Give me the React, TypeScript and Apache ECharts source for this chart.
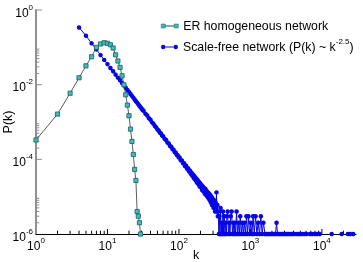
import React, { useEffect, useRef } from "react";
import * as echarts from "echarts";

const FONT = "'Liberation Sans', Arial, Helvetica, sans-serif";

// Axis ranges
const X_MIN = 1;
const X_MAX = 30000;
const Y_MIN = 1e-6;
const Y_MAX = 1;

// ER homogeneous network
const erK = [1, 2, 3, 4, 5, 6, 7, 8, 9, 10, 11, 12, 13, 14, 15, 16, 17, 18, 19, 20, 21, 22, 23, 24, 25, 26, 27, 28, 29];
const erP = [3.3e-4, 1.63e-3, 5.9e-3, 0.0153, 0.032, 0.056, 0.1, 0.123, 0.133, 0.128, 0.117, 0.096, 0.063, 0.043, 0.0291, 0.0173, 0.0099, 0.00536, 0.00284, 0.00147, 6.45e-4, 3.02e-4, 1.35e-4, 5.36e-5, 2.72e-5, 4e-6, 3e-6, 2e-6, 1e-6];

// Scale-free network: head
const sfHeadK = [4, 5, 6, 7, 8, 9, 10, 11, 12, 13, 14, 15, 16, 17, 18, 19, 20, 21, 22, 23, 24, 25, 26, 27, 28, 29, 30, 31];
const sfHeadP = [0.34, 0.205, 0.128, 0.088, 0.062, 0.046, 0.0355, 0.028, 0.0228, 0.0186, 0.0154, 0.0131, 0.011, 0.0096, 0.0083, 0.0072, 0.0064, 0.0056, 0.005, 0.0045, 0.004, 0.0036, 0.0033, 0.003, 0.0027, 0.0025, 0.0023, 0.0021];
// middle
const sfMidK = [32, 34, 36, 38, 40, 42, 44, 46, 48, 50, 52, 54, 56, 58, 60, 63, 66, 69, 72, 75, 78, 81, 84, 87, 90, 93, 96, 99];
const sfMidP = [2.0e-3, 1.66e-3, 1.49e-3, 1.26e-3, 1.15e-3, 9.8e-4, 9.0e-4, 7.8e-4, 7.2e-4, 6.3e-4, 5.9e-4, 5.2e-4, 4.95e-4, 4.35e-4, 4.15e-4, 3.55e-4, 3.3e-4, 2.82e-4, 2.65e-4, 2.28e-4, 2.17e-4, 1.88e-4, 1.8e-4, 1.56e-4, 1.52e-4, 1.33e-4, 1.29e-4, 1.13e-4];
// noisy band
const sfBandK = [102, 106, 110, 114, 118, 122, 126, 130, 134, 138, 142, 146, 150, 154, 158, 162, 166, 170, 174, 178, 182, 186, 190, 194, 198,
  200, 205, 210, 215, 220, 225, 230, 235, 240, 245, 250, 255, 260, 265, 270, 275, 280, 285, 290, 295, 300, 305, 310, 315, 320, 325, 330, 335, 340, 345, 350];
const sfBandP = [1.12e-4, 9.4e-5, 9.3e-5, 7.8e-5, 7.9e-5, 6.5e-5, 6.8e-5, 5.6e-5, 5.8e-5, 4.8e-5, 5.0e-5, 4.1e-5, 4.4e-5, 3.6e-5, 3.9e-5, 3.1e-5, 3.5e-5, 2.8e-5, 3.1e-5, 2.4e-5, 2.8e-5, 2.2e-5, 2.5e-5, 1.9e-5, 2.3e-5,
  1.8e-5, 2.1e-5, 1.5e-5, 1.9e-5, 1.4e-5, 1.7e-5, 1.2e-5, 1.6e-5, 1.1e-5, 1.4e-5, 1.0e-5, 1.3e-5, 9e-6, 1.2e-5, 8e-6, 1.1e-5, 7e-6, 1.0e-5, 6e-6, 9e-6, 7e-6, 5e-6, 8e-6, 6e-6, 4e-6, 7e-6, 5e-6, 1.3e-5, 4e-6, 6e-6, 3e-6];
// sparse tail (stems)
const sfTailK = [355, 362, 368, 375, 382, 390, 398, 405, 413, 422, 430, 440, 450, 460, 470, 480, 492, 505, 518, 530, 545, 560, 575, 590, 605, 620, 640, 660, 680, 700, 720, 745, 770, 795, 820, 850, 880, 910, 940, 975, 1010, 1050, 1090, 1130, 1180, 1230, 1280, 1340, 1400, 1460, 1520, 1600];
const sfTailP = [4e-6, 1e-6, 3e-6, 1e-6, 5e-6, 1e-6, 2e-6, 1e-6, 4e-6, 1e-6, 3e-6, 1e-6, 2e-6, 1e-6, 3e-6, 4e-6, 1e-6, 2e-6, 1e-6, 3e-6, 4e-6, 1e-6, 2e-6, 1e-6, 2e-6, 1e-6, 4e-6, 1e-6, 2e-6, 1e-6, 3e-6, 1e-6, 2e-6, 1e-6, 2e-6, 1e-6, 3e-6, 1e-6, 3e-6, 1e-6, 2e-6, 1e-6, 3e-6, 1e-6, 3e-6, 1e-6, 2e-6, 1e-6, 3e-6, 1e-6, 2e-6, 1e-6];
// far tail along the floor (null = no count)
const sfFarK = [1680, 1760, 1850, 1940, 2040, 2150, 2240, 2320, 2400, 2520, 2650, 2790, 2930, 3080, 3240, 3400, 3570, 3750, 3950, 4150, 4300, 4500, 4750, 5000, 5300, 5700, 6100, 6400, 6800, 7300, 7900, 8500, 9300, 11000, 13700, 16000, 18900, 21000, 23100, 25000, 27400];
const sfFarP: (number | null)[] = [1e-6, 1e-6, 1e-6, 1e-6, 1e-6, 1e-6, 1e-6, 2e-6, 1e-6, 1e-6, 1e-6, 1e-6, 1e-6, 1e-6, 1e-6, 1e-6, 1e-6, 1e-6, 1e-6, 1e-6, null, 1e-6, 1e-6, 1e-6, 1e-6, 1e-6, 1e-6, null, 1e-6, 1e-6, 1e-6, 1e-6, 1e-6, null, 1e-6, null, 1e-6, null, 1e-6, 1e-6, 1e-6];

// Tick positions
const xMajorTicks = [10, 100, 1000, 10000];
const minorMult = [2, 3, 4, 5, 6, 7, 8, 9];
const xMinorDecades = [1, 10, 100, 1000, 10000];
const yMajorTicks = [1e-4, 1e-2, 1];
const yMinorDecades = [1e-6, 1e-4, 1e-2];

const ER_NAME = "ER homogeneous network";
const SF_NAME = "Scale-free network (P(k) ~ k^-2.5)";

export default function App() {
  const ref = useRef<HTMLDivElement>(null);
  useEffect(() => {
    if (!ref.current) return;
    const chart = echarts.init(ref.current, undefined, { renderer: "svg" });

    const sfK = [...sfHeadK, ...sfMidK, ...sfBandK, ...sfTailK, ...sfFarK];
    const sfP: (number | null)[] = [...sfHeadP, ...sfMidP, ...sfBandP, ...sfTailP, ...sfFarP];
    const sfData = sfK.map((k, i) => [k, sfP[i] == null ? "-" : sfP[i]]);
    const erData = erK.map((k, i) => [k, erP[i]]);

    const xMinorTicks = xMinorDecades.flatMap((d) => minorMult.map((m) => m * d)).filter((v) => v < X_MAX);
    const yMinorTicks = yMinorDecades.flatMap((d) => minorMult.map((m) => m * d));
    const xTickData = [...xMajorTicks.map((v) => [v, Y_MIN, 5]), ...xMinorTicks.map((v) => [v, Y_MIN, 3.3])];
    const yTickData = [...yMajorTicks.map((v) => [X_MIN, v, 6]), ...yMinorTicks.map((v) => [X_MIN, v, 3.3])];

    const rich = {
      b: { fontSize: 12, lineHeight: 19, fontFamily: FONT, color: "#000" },
      s: { fontSize: 8, lineHeight: 8, verticalAlign: "top", fontFamily: FONT, color: "#000" },
    };
    const expOf = (v: number) => {
      const e = Math.log10(v);
      const r = Math.round(e);
      return Math.abs(e - r) > 1e-6 ? null : r;
    };

    const erIcon = "path://M0,0.5H4V4.5H0Z M13,0.5H17V4.5H13Z M4,2.3H13V2.7H4Z";
    const sfIcon = "path://M0,2.5A2.2,2.2 0 1 0 4.4,2.5A2.2,2.2 0 1 0 0,2.5Z M12.6,2.5A2.2,2.2 0 1 0 17,2.5A2.2,2.2 0 1 0 12.6,2.5Z M4.4,2.1H12.6V2.9H4.4Z";

    chart.setOption({
      animation: false,
      grid: { left: 36, right: 7, top: 10, bottom: 28, containLabel: false, outerBoundsMode: "none" },
      legend: [
        {
          left: 161, top: 20, padding: 0, orient: "vertical", itemWidth: 17, itemHeight: 5,
          selectedMode: false,
          data: [{ name: ER_NAME, icon: erIcon, itemStyle: { borderWidth: 0.5 } }],
          textStyle: { fontSize: 12.3, fontFamily: FONT, color: "#000" },
        },
        {
          left: 161, top: 37.5, padding: 0, orient: "vertical", itemWidth: 17, itemHeight: 5,
          selectedMode: false,
          data: [{ name: SF_NAME, icon: sfIcon }],
          formatter: () => "{b|Scale-free network (P(k) ~ k}{s|-2.5}{b|)}",
          textStyle: {
            fontFamily: FONT, color: "#000",
            rich: {
              b: { fontSize: 12.3, lineHeight: 19, fontFamily: FONT, color: "#000" },
              s: { fontSize: 8, lineHeight: 8, verticalAlign: "top", fontFamily: FONT, color: "#000" },
            },
          },
        },
      ],
      xAxis: {
        type: "log", logBase: 10, min: X_MIN, max: X_MAX,
        name: "k", nameLocation: "middle", nameGap: 14, nameMoveOverlap: false,
        nameTextStyle: { fontSize: 12.5, fontFamily: FONT, color: "#000" },
        axisLine: { show: true, onZero: false, lineStyle: { color: "#000", width: 1 } },
        axisTick: { show: false }, minorTick: { show: false },
        splitLine: { show: false },
        axisLabel: {
          margin: 2, rich,
          formatter: (v: number) => {
            const r = expOf(v);
            return r == null ? "" : `{b|10}{s|${r}}`;
          },
        },
      },
      yAxis: {
        type: "log", logBase: 10, min: Y_MIN, max: Y_MAX,
        name: "P(k)", nameLocation: "middle", nameGap: 22, nameMoveOverlap: false,
        nameTextStyle: { fontSize: 12.5, fontFamily: FONT, color: "#000" },
        axisLine: { show: true, onZero: false, lineStyle: { color: "#8f8f8f", width: 2 } },
        axisTick: { show: false }, minorTick: { show: false },
        splitLine: { show: false },
        axisLabel: {
          margin: 3, rich, padding: [5, 0, 0, 0],
          formatter: (v: number) => {
            const r = expOf(v);
            return r == null || r % 2 !== 0 ? "" : `{b|10}{s|${r}}`;
          },
        },
      },
      series: [
        {
          type: "custom", name: "xticks", silent: true, z: 1,
          encode: { x: 0, y: 1 },
          data: xTickData,
          renderItem: (_p: any, api: any) => {
            const pt = api.coord([api.value(0), api.value(1)]);
            const len = api.value(2);
            return { type: "line", shape: { x1: pt[0], y1: pt[1], x2: pt[0], y2: pt[1] - len }, style: { stroke: "#000", lineWidth: 1 } };
          },
        },
        {
          type: "custom", name: "yticks", silent: true, z: 1,
          encode: { x: 0, y: 1 },
          data: yTickData,
          renderItem: (_p: any, api: any) => {
            const pt = api.coord([api.value(0), api.value(1)]);
            const len = api.value(2);
            return { type: "line", shape: { x1: pt[0], y1: pt[1], x2: pt[0] + len, y2: pt[1] }, style: { stroke: "#8f8f8f", lineWidth: 1 } };
          },
        },
        {
          type: "line", name: SF_NAME, data: sfData, z: 2,
          symbol: "circle", symbolSize: 4.5, showAllSymbol: true, connectNulls: false,
          lineStyle: { color: "#0505e6", width: 1 },
          itemStyle: { color: "#0505e6" },
        },
        {
          type: "line", name: ER_NAME, data: erData, z: 3,
          symbol: "rect", symbolSize: 4.2, showAllSymbol: true,
          lineStyle: { color: "#333333", width: 0.8 },
          itemStyle: { color: "#3dbdbd", borderColor: "#1d5c5c", borderWidth: 0.8 },
        },
      ],
    });
    return () => chart.dispose();
  }, []);
  return <div ref={ref} style={{ position: "fixed", left: 0, top: 0, width: 363, height: 262 }} />;
}
